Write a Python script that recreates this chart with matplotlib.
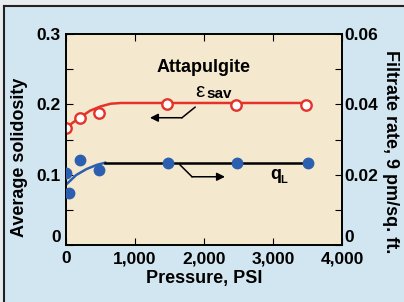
import matplotlib.pyplot as plt
from matplotlib.lines import Line2D
from matplotlib.patches import Rectangle
from matplotlib.ticker import MultipleLocator, FuncFormatter

plt.rcParams['font.family'] = ['Liberation Sans', 'DejaVu Sans']
plt.rcParams['font.weight'] = 'bold'

# solidosity (left axis), open red circles
eps_x = [0, 200, 480, 1460, 2460, 3470]
eps_y = [0.166, 0.181, 0.188, 0.200, 0.199, 0.199]
# fitted curve for solidosity
eps_cx = [0, 100, 200, 350, 500, 650, 800, 3470]
eps_cy = [0.166, 0.174, 0.181, 0.191, 0.197, 0.201, 0.202, 0.202]

# filtrate rate (right axis), filled blue dots
q_x = [0, 40, 200, 480, 1480, 2480, 3500]
q_y = [0.0205, 0.0148, 0.0242, 0.0213, 0.0233, 0.0233, 0.0233]
# fitted curve for filtrate rate (blue rising part, black flat part)
q_cx = [0, 150, 300, 450, 570]
q_cy = [0.0171, 0.0199, 0.0216, 0.0228, 0.0234]
q_fx = [570, 3500]
q_fy = [0.0234, 0.0234]

red = '#e5322b'
blue = '#2d5fb0'

fig = plt.figure(figsize=(4.04, 3.02), dpi=100, facecolor='#d2e6f1')
# pale strip outside the frame
fig.add_artist(Rectangle((0, 0.98), 1, 0.02, transform=fig.transFigure, color='#e9ecee', lw=0))
fig.add_artist(Rectangle((0, 0), 0.011, 1, transform=fig.transFigure, color='#e9ecee', lw=0))

ax = fig.add_axes([0.163, 0.189, 0.684, 0.698], facecolor='#f4e8cf')
ax2 = ax.twinx()

ax.plot(eps_cx, eps_cy, color=red, lw=1.8, zorder=2)
ax.plot(eps_x, eps_y, 'o', mfc='white', mec=red, mew=1.7, ms=7.5, zorder=3)

ax2.plot(q_cx, q_cy, color=blue, lw=1.8, zorder=2)
ax2.plot(q_fx, q_fy, color='black', lw=1.8, zorder=2)
ax2.plot(q_x, q_y, 'o', color=blue, ms=7.5, zorder=3)

ax.set_xlim(0, 4000)
ax.set_ylim(0, 0.3)
ax2.set_ylim(0, 0.06)

ax.xaxis.set_major_locator(MultipleLocator(1000))
ax.xaxis.set_major_formatter(FuncFormatter(lambda v, p: f'{int(v):,}'))
ax.yaxis.set_major_locator(MultipleLocator(0.1))
ax.yaxis.set_minor_locator(MultipleLocator(0.05))
ax.yaxis.set_major_formatter(FuncFormatter(lambda v, p: '0' if v == 0 else f'{v:.1f}'))
ax2.yaxis.set_major_locator(MultipleLocator(0.02))
ax2.yaxis.set_minor_locator(MultipleLocator(0.01))
ax2.yaxis.set_major_formatter(FuncFormatter(lambda v, p: '0' if v == 0 else f'{v:.2f}'))

ax.tick_params(axis='both', which='both', direction='in', labelsize=12.5, top=True,
               length=5, width=0.8)
ax.tick_params(axis='x', pad=4.5)
ax.tick_params(axis='y', pad=3.5)
ax2.tick_params(axis='y', which='both', direction='in', labelsize=12.5, pad=1.5,
                length=5, width=0.8)
for a in (ax, ax2):
    for s in a.spines.values():
        s.set_linewidth(1.2)

ax.set_xlabel('Pressure, PSI', fontsize=13, fontweight='bold', labelpad=3)
ax.set_ylabel('Average solidosity', fontsize=13, fontweight='bold', va='center')
ax.yaxis.set_label_coords(-0.167, 0.417)
ax2.set_ylabel('Filtrate rate, 9 pm/sq. ft.', fontsize=13, fontweight='bold',
               rotation=-90, va='center')
ax2.yaxis.set_label_coords(1.174, 0.44)

ax.text(2000, 0.252, 'Attapulgite', ha='center', va='center', fontsize=13, fontweight='bold')
ax.text(1870, 0.219, 'ε', ha='left', va='center', fontsize=15, fontweight='normal')
ax.text(2040, 0.215, 'sav', ha='left', va='center', fontsize=11, fontweight='bold')
ax.text(2960, 0.100, 'q', ha='left', va='center', fontsize=13, fontweight='bold')
ax.text(3110, 0.093, 'L', ha='left', va='center', fontsize=8, fontweight='bold')

# pointer arrows
ax.plot([1870, 1681], [0.196, 0.181], color='black', lw=1.1)
ax.annotate('', xy=(1217, 0.181), xytext=(1681, 0.181),
            arrowprops=dict(arrowstyle='-|>', color='black', lw=1.1, mutation_scale=12,
                            shrinkA=0, shrinkB=0))
ax.plot([1652, 1826], [0.114, 0.097], color='black', lw=1.1)
ax.annotate('', xy=(2304, 0.097), xytext=(1826, 0.097),
            arrowprops=dict(arrowstyle='-|>', color='black', lw=1.1, mutation_scale=12,
                            shrinkA=0, shrinkB=0))

# outer frame (left and top edges)
fig.add_artist(Line2D([0.011, 0.011], [0, 0.98], transform=fig.transFigure, color='#222222', lw=1.5))
fig.add_artist(Line2D([0.011, 1], [0.98, 0.98], transform=fig.transFigure, color='#222222', lw=1.5))

# zero labels on the y axes sit just above the bottom spine
fig.canvas.draw()
for a in (ax, ax2):
    for t in a.get_yticklabels():
        if t.get_text() == '0':
            t.set_verticalalignment('bottom')

fig.savefig('out.png', dpi=100, facecolor=fig.get_facecolor())
